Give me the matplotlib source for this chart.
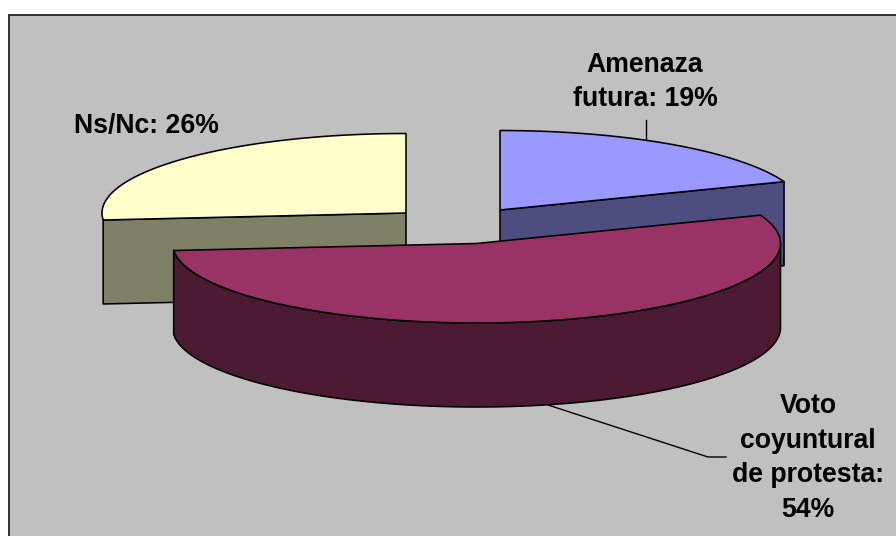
import numpy as np
import matplotlib
matplotlib.use("Agg")
import matplotlib.pyplot as plt
from matplotlib.patches import Rectangle

# ---- data ----
categories = ["Amenaza futura", "Voto coyuntural de protesta", "Ns/Nc"]
values = [19.2, 54.4, 26.4]
label_texts = ["Amenaza\nfutura: 19%", "Voto\ncoyuntural\nde protesta:\n54%", "Ns/Nc: 26%"]

# ---- style / layout ----
top_colors = ["#9999FF", "#993366", "#FFFFCC"]
side_colors = ["#4D4D80", "#4D1A33", "#808066"]
centers = [(500, 210), (476.5, 243.5), (406, 213)]   # exploded slice apexes, px
RX, RY, DEPTH = 304.0, 79.5, 84.0
BG = "#C0C0C0"
EDGE = "black"
LW = 1.15

plt.rcParams["font.family"] = ["Liberation Sans", "DejaVu Sans"]
fig = plt.figure(figsize=(8.96, 5.36), dpi=100, facecolor="white")
ax = fig.add_axes([0, 0, 1, 1])
ax.set_xlim(0, 896)
ax.set_ylim(536, 0)
ax.axis("off")

ax.add_patch(Rectangle((9.2, 14.9), 900, 540, facecolor=BG, edgecolor="#222222", lw=1.3, zorder=0))


def pt(c, deg, dz=0.0):
    a = np.radians(deg)
    return c[0] + RX * np.cos(a), c[1] - RY * np.sin(a) + dz


def arc(c, a0, a1, dz=0.0, n=160):
    d = np.linspace(a0, a1, n)
    x, y = pt(c, d, dz)
    return np.column_stack([x, y])


def poly(points, color, z):
    ax.fill(points[:, 0], points[:, 1], facecolor=color, edgecolor=EDGE,
            lw=LW, joinstyle="round", zorder=z)


# slice angles, clockwise from 12 o'clock
fracs = np.array(values, dtype=float) / np.sum(values)
bounds = 90 - 360 * np.concatenate([[0], np.cumsum(fracs)])
spans = list(zip(bounds[:-1], bounds[1:]))

# Ns/Nc (back left)
i = 2
c = centers[i]; a0, a1 = spans[i]
end = np.array(pt(c, a0))
face = np.array([c, end, end + [0, DEPTH], np.array(c) + [0, DEPTH]])
poly(face, side_colors[i], 2)
poly(np.vstack([[c], arc(c, a0, a1)]), top_colors[i], 3)

# Amenaza (back right)
i = 0
c = centers[i]; a0, a1 = spans[i]
end = np.array(pt(c, a1))
face = np.array([c, end, end + [0, DEPTH], np.array(c) + [0, DEPTH]])
poly(face, side_colors[i], 4)
poly(np.vstack([[c], arc(c, a0, a1)]), top_colors[i], 5)

# Voto (front)
i = 1
c = centers[i]; a0, a1 = spans[i]
rim_top = arc(c, 0, a1)
rim_bot = arc(c, a1, 0, DEPTH)
poly(np.vstack([rim_top, rim_bot]), side_colors[i], 6)
poly(np.vstack([[c], arc(c, a0, a1)]), top_colors[i], 7)

# leader lines
ax.plot([646, 646], [120, 140], color="black", lw=1.0, zorder=8)
ax.plot([548, 708, 726], [405, 457, 457], color="black", lw=1.0, zorder=8)

# labels
FS = 19.2
ax.text(645, 82.5, label_texts[0], ha="center", va="center", fontsize=FS,
        fontweight="bold", linespacing=1.40, zorder=9)
ax.text(808, 458, label_texts[1], ha="center", va="center", fontsize=FS,
        fontweight="bold", linespacing=1.43, zorder=9)
ax.text(146.5, 126, label_texts[2], ha="center", va="center", fontsize=FS,
        fontweight="bold", zorder=9)

fig.savefig("out.png", dpi=100, facecolor="white")
